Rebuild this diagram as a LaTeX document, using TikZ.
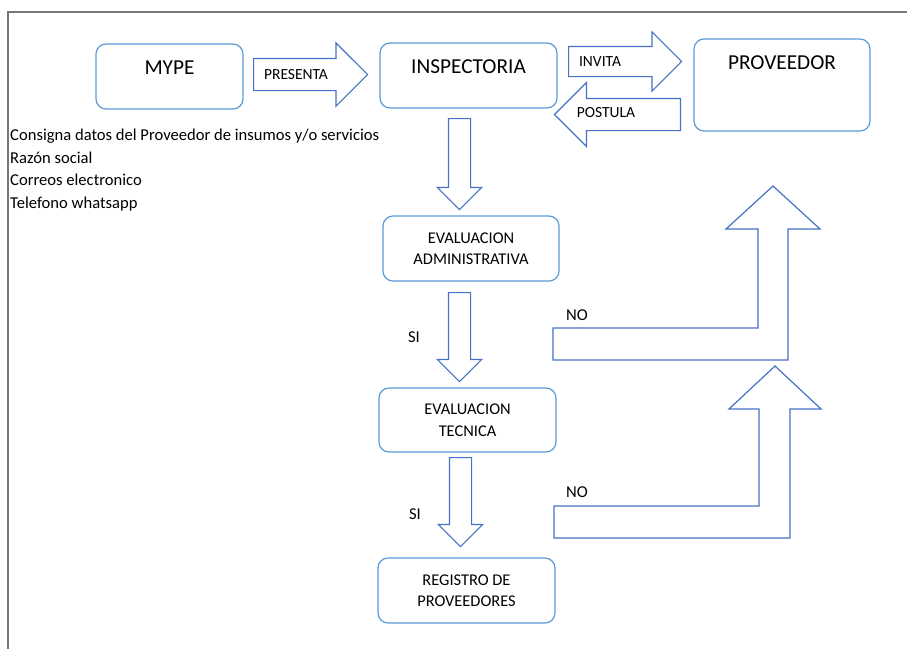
\documentclass[tikz,border=0pt]{standalone}
\usepackage{fontspec}
\setmainfont{Carlito}
\usetikzlibrary{shapes.arrows,calc}

\definecolor{boxblue}{RGB}{91,155,213}
\definecolor{arrblue}{RGB}{68,114,196}
\definecolor{framegray}{RGB}{120,120,120}

\tikzset{
    box/.style={draw=boxblue, line width=1.2pt, rounded corners=10pt, minimum width=177pt, minimum height=65pt, inner sep=0pt, align=center, font=\fontsize{16.4}{21.5}\selectfont},
    bigtxt/.style={inner sep=0pt, font=\fontsize{21.3}{25}\selectfont},
    midtxt/.style={inner sep=0pt, font=\fontsize{16.6}{22.7}\selectfont},
    smalltxt/.style={inner sep=0pt, font=\fontsize{15.5}{18}\selectfont},
    blockarr/.style n args={3}{single arrow, draw=arrblue, line width=1.2pt, single arrow tip angle=90, single arrow head extend=#3, inner xsep=0pt, inner ysep=#2, minimum height=#1, minimum width=0pt, anchor=tail},
    bentarr/.style={draw=arrblue, line width=1.2pt, line join=miter}
}

\begin{document}
\begin{tikzpicture}[x=1pt, y=-1pt]
    \useasboundingbox (0,0) rectangle (907,649);
    \draw[framegray, line width=1.2pt] (907,12) -- (8,12) -- (8,649);

    % boxes
    \node[box, minimum width=147pt] (mype) at (169.5,76.5) {};
    \node[box] (insp) at (468.5,75.5) {};
    \node[box, minimum width=176pt, minimum height=92pt] (prov) at (782,85) {};
    \node[box, minimum width=176pt] (evadm) at (471,248.5) {EVALUACION\\ADMINISTRATIVA};
    \node[box, minimum height=64pt] (evtec) at (467.5,420) {EVALUACION\\TECNICA};
    \node[box] (regis) at (466.5,590.5) {REGISTRO DE\\PROVEEDORES};

    \node[bigtxt] (mype-t) at ($(mype.north)+(0,24)$) {MYPE};
    \node[bigtxt] (insp-t) at ($(insp.north)+(0,24)$) {INSPECTORIA};
    \node[bigtxt] (prov-t) at ($(prov.north)+(0,24)$) {PROVEEDOR};

    \node[midtxt, align=left, anchor=west] (datos) at (10,170) {Consigna datos del Proveedor de insumos y/o servicios\\Raz\'on social\\Correos electronico\\Telefono whatsapp};

    % block arrows
    \node[blockarr={114pt}{15.5pt}{15.5pt}] (presenta) at (253,74.5) {};
    \node[blockarr={113pt}{14.5pt}{14.5pt}] (invita) at (568,61.5) {};
    \node[blockarr={126pt}{15.5pt}{16pt}, rotate=180] (postula) at (681,114.5) {};
    \node[blockarr={91pt}{10.5pt}{11pt}, rotate=-90] (down1) at (459.5,118) {};
    \node[blockarr={89pt}{10.5pt}{11pt}, rotate=-90] (down2) at (459.5,292) {};
    \node[blockarr={89pt}{10.5pt}{11pt}, rotate=-90] (down3) at (460.5,457) {};

    \node[smalltxt] (presenta-t) at (296,75) {PRESENTA};
    \node[smalltxt] (invita-t) at (600,62) {INVITA};
    \node[smalltxt] (postula-t) at (606,113) {POSTULA};

    % NO arrows back to the proveedor
    \draw[bentarr] (553,328) -- (758,328) -- (758,229) -- (726,229) -- (773,186) -- (820,229) -- (788,229) -- (788,360) -- (553,360) -- cycle;
    \draw[bentarr] (554,506) -- (759,506) -- (759,409) -- (729,409) -- (775,366) -- (821,409) -- (790,409) -- (790,538) -- (554,538) -- cycle;

    \node[midtxt] (si1) at (414,337) {SI};
    \node[midtxt] (si2) at (415,514) {SI};
    \node[midtxt] (no1) at (577,315) {NO};
    \node[midtxt] (no2) at (577,492) {NO};
\end{tikzpicture}
\end{document}
